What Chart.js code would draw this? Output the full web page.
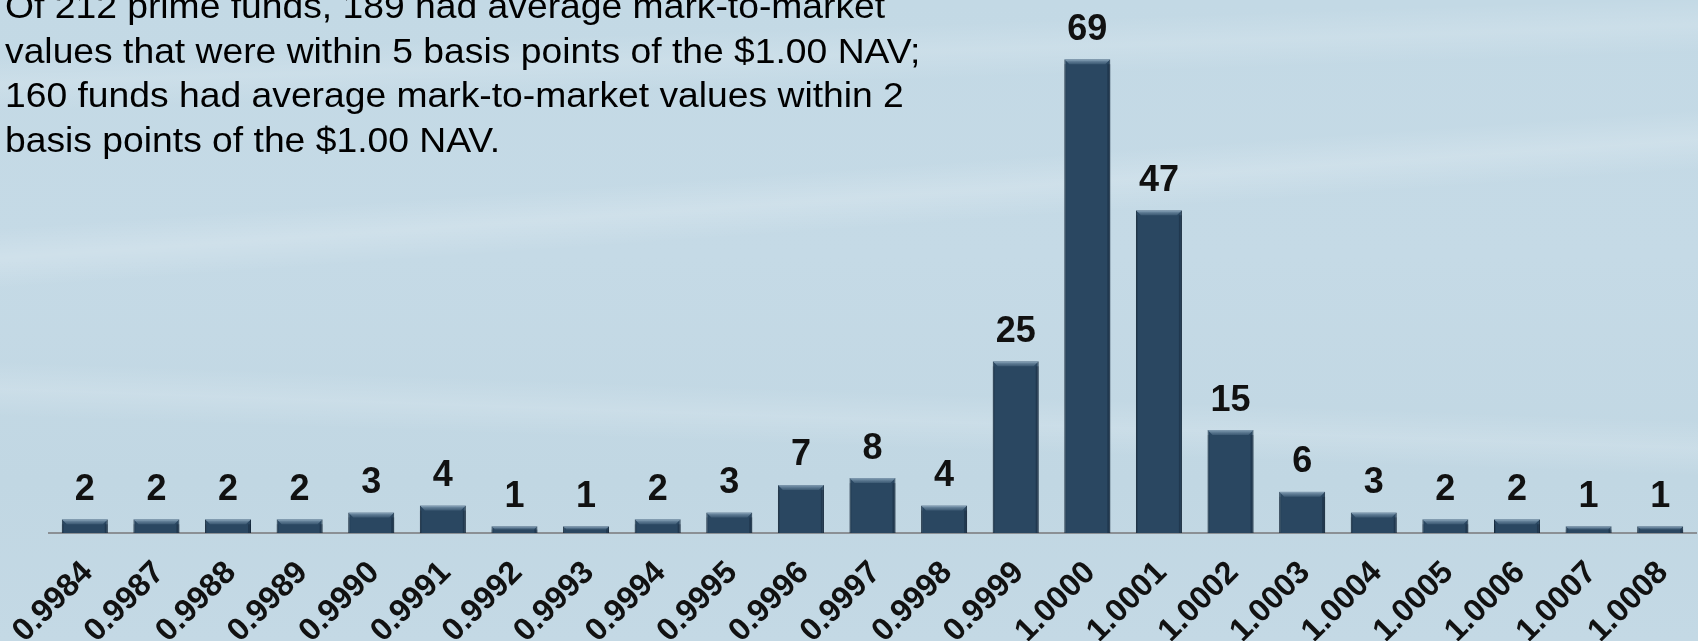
<!DOCTYPE html>
<html lang="en">
  <head>
    <meta charset="UTF-8" />
    <title>Prime funds - mark-to-market distribution</title>
    <script src="https://cdn.jsdelivr.net/npm/chart.js"></script>
    <style>
      html, body {
        margin: 0;
        padding: 0;
        width: 1698px;
        height: 641px;
        overflow: hidden;
      }
      body {
        font-family: "Liberation Sans", Arial, sans-serif;
        background:
          linear-gradient(176deg, rgba(255,255,255,0) 30%, rgba(255,255,255,0.18) 34%, rgba(255,255,255,0) 38%),
          linear-gradient(182deg, rgba(255,255,255,0) 60%, rgba(255,255,255,0.15) 64%, rgba(255,255,255,0) 68%),
          linear-gradient(178deg, rgba(255,255,255,0) 8%, rgba(255,255,255,0.14) 12%, rgba(255,255,255,0) 16%),
          linear-gradient(180deg, #c3d9e5 0%, #c5dae6 40%, #c1d7e3 75%, #c4d9e5 100%);
        position: relative;
      }
      .note {
        position: absolute;
        left: 5px;
        top: -16px;
        font-size: 34.5px;
        line-height: 44.5px;
        color: #000;
        white-space: nowrap;
        transform: scaleX(1.08);
        transform-origin: 0 0;
        z-index: 2;
      }
      .wrap {
        position: absolute;
        left: 0;
        top: 0;
        width: 1698px;
        height: 641px;
      }
    </style>
  </head>
  <body>
    <div class="note">
      Of 212 prime funds, 189 had average mark-to-market<br />
      values that were within 5 basis points of the $1.00 NAV;<br />
      160 funds had average mark-to-market values within 2<br />
      basis points of the $1.00 NAV.
    </div>
    <div class="wrap">
      <canvas id="navChart"></canvas>
    </div>

    <script>
      // average mark-to-market value buckets
      const categories = ["0.9984", "0.9987", "0.9988", "0.9989", "0.9990", "0.9991", "0.9992", "0.9993",
        "0.9994", "0.9995", "0.9996", "0.9997", "0.9998", "0.9999", "1.0000", "1.0001", "1.0002",
        "1.0003", "1.0004", "1.0005", "1.0006", "1.0007", "1.0008"];
      // number of prime funds in each bucket
      const fundCounts = [2, 2, 2, 2, 3, 4, 1, 1, 2, 3, 7, 8, 4, 25, 69, 47, 15, 6, 3, 2, 2, 1, 1];
      const yMax = 75;

      Chart.defaults.font.family = '"Liberation Sans", Arial, sans-serif';

      // value labels above each bar + a little bevel on top of the bars
      const barDecor = {
        id: "barDecor",
        afterDatasetsDraw(chart) {
          const ctx = chart.ctx;
          const meta = chart.getDatasetMeta(0);
          ctx.save();
          meta.data.forEach((bar, i) => {
            const p = bar.getProps(["x", "y", "base", "width"], true);
            const l = p.x - p.width / 2;
            const r = p.x + p.width / 2;
            const h = p.base - p.y;
            const b = Math.min(5, h / 2);
            // top bevel
            const g = ctx.createLinearGradient(0, p.y, 0, p.y + b);
            g.addColorStop(0, "rgba(150,178,200,0.85)");
            g.addColorStop(1, "rgba(80,110,135,0.5)");
            ctx.fillStyle = g;
            ctx.beginPath();
            ctx.moveTo(l, p.y);
            ctx.lineTo(r, p.y);
            ctx.lineTo(r - b, p.y + b);
            ctx.lineTo(l + b, p.y + b);
            ctx.closePath();
            ctx.fill();
            // side shading
            ctx.fillStyle = "rgba(15,30,45,0.35)";
            ctx.fillRect(r - 3, p.y + b, 3, h - b);
            ctx.fillStyle = "rgba(15,30,45,0.2)";
            ctx.fillRect(l, p.y + b, 2, h - b);

            ctx.fillStyle = "#111";
            ctx.font = 'bold 36px "Liberation Sans", Arial, sans-serif';
            ctx.textAlign = "center";
            ctx.textBaseline = "alphabetic";
            ctx.fillText(String(fundCounts[i]), p.x, p.y - 19.5);
          });
          ctx.restore();
        }
      };

      new Chart(document.getElementById("navChart"), {
        type: "bar",
        data: {
          labels: categories,
          datasets: [{
            label: "Prime funds",
            data: fundCounts,
            backgroundColor: "#2a4761",
            borderColor: "#1b2f42",
            borderWidth: 1,
            barPercentage: 0.642,
            categoryPercentage: 1
          }]
        },
        options: {
          responsive: true,
          maintainAspectRatio: false,
          animation: false,
          layout: {
            padding: { left: 49, right: 2, top: 18, bottom: 0 }
          },
          plugins: {
            legend: { display: false },
            tooltip: { enabled: false }
          },
          scales: {
            x: {
              grid: { display: false, drawTicks: false },
              border: { display: true, color: "#8b9095", width: 2 },
              afterFit(scale) {
                // fixed axis band; labels may run past the plot edges
                scale.height = 108;
                scale.paddingLeft = 0;
                scale.paddingRight = 0;
              },
              ticks: {
                autoSkip: false,
                minRotation: 45,
                maxRotation: 45,
                padding: 21,
                labelOffset: 3,
                color: "#111",
                font: { size: 32, weight: "bold" }
              }
            },
            y: {
              display: false,
              min: 0,
              max: yMax
            }
          }
        },
        plugins: [barDecor]
      });
    </script>
  </body>
</html>
